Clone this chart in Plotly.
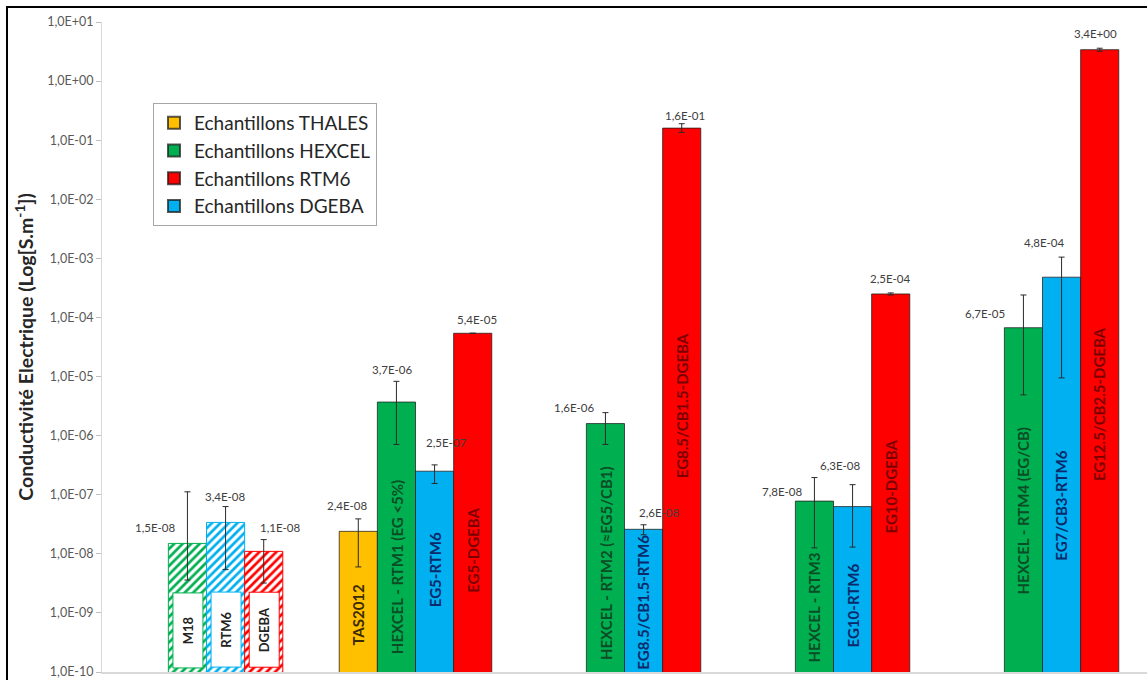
import numpy as np
import plotly.graph_objects as go

# ---------------- data ----------------
groups = [0, 1, 2, 3, 4]

# slot 0 : yellow (THALES)
yellow_vals = [None, 2.4e-8, None, None, None]
yellow_err_up = [None, 3.9e-8, None, None, None]
yellow_err_dn = [None, 6.0e-9, None, None, None]
yellow_text = [None, "TAS2012", None, None, None]

# slot 1 : green (HEXCEL / M18)
green_vals = [1.5e-8, 3.7e-6, 1.6e-6, 7.8e-8, 6.7e-5]
green_err_up = [1.12e-7, 8.3e-6, 2.45e-6, 1.95e-7, 2.4e-4]
green_err_dn = [3.6e-9, 7.1e-7, 7.1e-7, 1.26e-8, 4.9e-6]
green_text = ["M18", "HEXCEL - RTM1 (EG <5%)", "HEXCEL - RTM2 (\u2248EG5/CB1)",
              "HEXCEL - RTM3", "HEXCEL - RTM4 (EG/CB)"]

# slot 2 : blue (RTM6 based)
blue_vals = [3.4e-8, 2.5e-7, 2.6e-8, 6.3e-8, 4.8e-4]
blue_err_up = [6.3e-8, 3.2e-7, 3.1e-8, 1.48e-7, 1.05e-3]
blue_err_dn = [5.4e-9, 1.55e-7, 2.1e-8, 1.3e-8, 9.5e-6]
blue_text = ["RTM6", "EG5-RTM6", "EG8.5/CB1.5-RTM6", "EG10-RTM6", "EG7/CB3-RTM6"]

# slot 3 : red (DGEBA based)
red_vals = [1.1e-8, 5.4e-5, 1.6e-1, 2.5e-4, 3.4]
red_err_up = [1.74e-8, 5.4e-5, 1.9e-1, 2.6e-4, 3.6]
red_err_dn = [3.2e-9, 5.4e-5, 1.35e-1, 2.4e-4, 3.2]
red_text = ["DGEBA", "EG5-DGEBA", "EG8.5/CB1.5-DGEBA", "EG10-DGEBA", "EG12.5/CB2.5-DGEBA"]

value_labels = {
    0: [None, "2,4E-08", None, None, None],
    1: ["1,5E-08", "3,7E-06", "1,6E-06", "7,8E-08", "6,7E-05"],
    2: ["3,4E-08", "2,5E-07", "2,6E-08", "6,3E-08", "4,8E-04"],
    3: ["1,1E-08", "5,4E-05", "1,6E-01", "2,5E-04", "3,4E+00"],
}

legend_names = ["Echantillons THALES", "Echantillons HEXCEL",
                "Echantillons DGEBA", "Echantillons RTM6"]

ytick_exp = list(range(-10, 2))
ytick_text = ["1,0E%+03d" % e for e in ytick_exp]

# ---------------- style ----------------
FONT = "Lato"
colors = ["#FFC000", "#00B050", "#00B0F0", "#FF0000"]
text_colors = ["#3b2a00", "#0b4d25", "#0b2a6b", "#7a0000"]
legend_rank = [1, 2, 4, 3]
BARGAP = 0.27
SLOT = (1 - BARGAP) / 4
YMIN, YMAX = -10, 1

# per-label pixel offsets (dx, dy above bar top) - placement only
label_dx = {0: [0, -11, 0, 0, 0], 1: [-32, -4, -31, -32, -38],
            2: [0, 12, 16, -12, -17], 3: [17, 4, 3, 0, -4]}
label_dy = {0: [0, 26, 0, 0, 0], 1: [16, 33, 16, 10, 14],
            2: [26, 29, 17, 41, 35], 3: [24, 14, 13, 15, 16]}
# vertical placement of the text inside each bar (fraction of bar length)
inner_frac = {0: [0, 0.41, 0, 0, 0], 1: [0, 0.39, 0.44, 0.38, 0.47],
              2: [0, 0.51, 0.49, 0.40, 0.42], 3: [0, 0.36, 0.49, 0.49, 0.43]}

slots = [
    (yellow_vals, yellow_err_up, yellow_err_dn, yellow_text),
    (green_vals, green_err_up, green_err_dn, green_text),
    (blue_vals, blue_err_up, blue_err_dn, blue_text),
    (red_vals, red_err_up, red_err_dn, red_text),
]

fig = go.Figure()

for s, (vals, eu, ed, txt) in enumerate(slots):
    xs, ys, ups, dns = [], [], [], []
    for g in groups[1:]:
        v = vals[g]
        if v is None:
            continue
        xs.append(g)
        ys.append(v)
        ups.append(eu[g] - v)
        dns.append(v - ed[g])
    fig.add_trace(go.Bar(
        x=xs, y=ys, name=legend_names[s], offsetgroup=str(s),
        legendgroup=str(s), legendrank=legend_rank[s],
        marker=dict(color=colors[s], line=dict(color="rgba(30,30,30,0.75)", width=1)),
        error_y=dict(type="data", array=ups, arrayminus=dns, symmetric=False,
                     color="#2b2b2b", thickness=1, width=3),
        hoverinfo="skip", cliponaxis=False,
    ))
    # reference samples (group 0) hatched
    if vals[0] is not None:
        v = vals[0]
        fig.add_trace(go.Bar(
            x=[groups[0]], y=[v], offsetgroup=str(s), showlegend=False,
            marker=dict(color="white",
                        line=dict(color=colors[s], width=1),
                        pattern=dict(shape="/", fgcolor=colors[s], bgcolor="white",
                                     size=6, solidity=0.45, fillmode="replace")),
            error_y=dict(type="data", array=[eu[0] - v], arrayminus=[v - ed[0]],
                         symmetric=False, color="#2b2b2b", thickness=1, width=3),
            hoverinfo="skip",
        ))

annotations = []
for s, (vals, eu, ed, txt) in enumerate(slots):
    for g in groups:
        v = vals[g]
        if v is None:
            continue
        xc = g + (s - 1.5) * SLOT
        top = np.log10(v)
        annotations.append(dict(
            x=xc, y=top, xref="x", yref="y", text=value_labels[s][g],
            showarrow=False, xanchor="center", yanchor="middle",
            xshift=label_dx[s][g], yshift=label_dy[s][g],
            font=dict(family=FONT, size=11.5, color="#404040")))
        if g == 0:
            annotations.append(dict(
                x=xc, y=0, xref="x", yref="y domain", text="<b>%s</b>" % txt[g],
                showarrow=False, textangle=-90, xanchor="center", yanchor="bottom",
                yshift=4, width=72, height=27, bgcolor="white",
                bordercolor=colors[s], borderwidth=1, borderpad=1,
                font=dict(family=FONT, size=13, color="#222222")))
        else:
            ymid = YMIN + inner_frac[s][g] * (top - YMIN)
            annotations.append(dict(
                x=xc, y=ymid, xref="x", yref="y", text="<b>%s</b>" % txt[g],
                showarrow=False, textangle=-90, xanchor="center", yanchor="middle",
                font=dict(family=FONT, size=15, color=text_colors[s])))

# plot area pixels
W, H = 1147, 680
L, R, T, B = 102, 0, 22, 8
pw, ph = W - L - R, H - T - B


def px_x(p):
    return (p - L) / pw


def px_y(p):
    return (H - B - p) / ph


fig.update_layout(
    width=W, height=H,
    margin=dict(l=L, r=R, t=T, b=B, pad=0),
    paper_bgcolor="white", plot_bgcolor="white",
    barmode="group", bargap=BARGAP, bargroupgap=0,
    font=dict(family=FONT, color="#404040"),
    showlegend=True,
    legend=dict(x=px_x(153), y=px_y(103), xanchor="left", yanchor="top",
                bordercolor="#a6a6a6", borderwidth=1, bgcolor="white",
                font=dict(family=FONT, size=19, color="#262626"),
                traceorder="grouped", tracegroupgap=0,
                itemsizing="constant"),
    annotations=annotations,
    shapes=[dict(type="rect", xref="paper", yref="paper",
                 x0=px_x(7), x1=px_x(1200), y0=px_y(720), y1=px_y(7),
                 line=dict(color="black", width=2), layer="above")],
    xaxis=dict(range=[-0.5, 4.5], showticklabels=False, ticks="",
               showgrid=False, zeroline=False, showline=True,
               linecolor="#d9d9d9", linewidth=1.5, fixedrange=True),
    yaxis=dict(type="log", range=[YMIN, YMAX], automargin=False,
               tickvals=[10.0 ** e for e in ytick_exp], ticktext=ytick_text,
               tickfont=dict(family=FONT, size=12.5, color="#595959"),
               ticks="outside", ticklen=5, tickcolor="#bfbfbf",
               showgrid=False, zeroline=False, showline=True,
               linecolor="#d9d9d9", linewidth=1,
               title=dict(text="<b>Conductivit\u00e9 Electrique (Log[S.m<sup>-1</sup>])</b>",
                          font=dict(family=FONT, size=19.5, color="#262626"),
                          standoff=8)),
)

fig.write_html("out.html", config={"displayModeBar": False},
               post_script="document.body.style.margin='0px';")
